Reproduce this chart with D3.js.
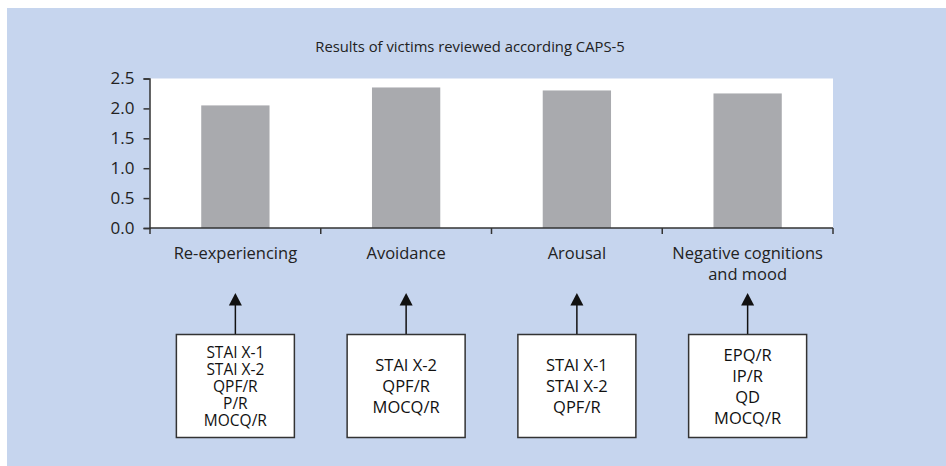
<!DOCTYPE html>
<html><head><meta charset="utf-8">
<script src="https://cdn.jsdelivr.net/npm/d3@7"></script>
<style>body{margin:0;background:#fff}svg{display:block}</style>
</head><body>
<svg id="c" width="946" height="466"></svg>
<script>
const title = "Results of victims reviewed according CAPS-5";
const categories = ["Re-experiencing", "Avoidance", "Arousal", "Negative cognitions"];
const categoryLines = [["Re-experiencing"], ["Avoidance"], ["Arousal"], ["Negative cognitions", "and mood"]];
const values = [2.05, 2.35, 2.3, 2.25];
const yTicks = [0, 0.5, 1.0, 1.5, 2.0, 2.5];
const boxLines = [
  ["STAI X-1", "STAI X-2", "QPF/R", "P/R", "MOCQ/R"],
  ["STAI X-2", "QPF/R", "MOCQ/R"],
  ["STAI X-1", "STAI X-2", "QPF/R"],
  ["EPQ/R", "IP/R", "QD", "MOCQ/R"]
];

const svg = d3.select("#c");
const font = "'Open Sans', sans-serif";
svg.append("rect").attr("x", 7).attr("y", 8).attr("width", 939).attr("height", 458).attr("fill", "#c6d5ee");

const x = d3.scaleBand().domain(categories).range([150, 833]).paddingInner(0.6).paddingOuter(0.3);
const y = d3.scaleLinear().domain([0, 2.5]).range([228, 78.5]);

svg.append("rect").attr("x", 150).attr("y", y(2.5)).attr("width", 833 - 150).attr("height", y(0) - y(2.5)).attr("fill", "#fff");

svg.append("text").attr("x", 470).attr("y", 52).attr("text-anchor", "middle")
  .attr("font-family", font).attr("font-size", 14.8).attr("fill", "#222").text(title);

svg.selectAll(".bar").data(values).enter().append("rect")
  .attr("x", (d, i) => x(categories[i])).attr("width", x.bandwidth())
  .attr("y", d => y(d)).attr("height", d => y(0) - y(d)).attr("fill", "#a9aaae");

// y axis
const yAxis = svg.append("g").attr("transform", "translate(149.5,0)")
  .call(d3.axisLeft(y).tickValues(yTicks).tickFormat(d3.format(".1f")).tickSize(6).tickPadding(9));
yAxis.select(".domain").attr("stroke", "#333").attr("stroke-width", 1.5);
yAxis.selectAll(".tick line").attr("stroke", "#333").attr("stroke-width", 1.5);
yAxis.selectAll(".tick text").attr("font-family", font).attr("font-size", 17).attr("fill", "#222");

// x axis line and boundary ticks
const step = x.step();
const bounds = d3.range(categories.length + 1).map(i => 150 + i * step);
svg.append("line").attr("x1", 149.5).attr("x2", 833).attr("y1", y(0)).attr("y2", y(0)).attr("stroke", "#333").attr("stroke-width", 1.5);
svg.selectAll(".xt").data(bounds).enter().append("line")
  .attr("x1", d => d).attr("x2", d => d).attr("y1", y(0)).attr("y2", y(0) + 6)
  .attr("stroke", "#333").attr("stroke-width", 1.5);

// category labels
categoryLines.forEach((lines, i) => {
  const cx = x(categories[i]) + x.bandwidth() / 2;
  const t = svg.append("text").attr("text-anchor", "middle").attr("font-family", font)
    .attr("font-size", 16.5).attr("fill", "#222");
  lines.forEach((l, j) => t.append("tspan").attr("x", cx).attr("y", 259 + j * 21).text(l));
});

// arrows and boxes
const boxW = 118, boxTop = 334.5, boxH = 103;
const lineH = [17, 21, 21, 21];
const boxFont = [15.5, 16.5, 16.5, 16.5];
boxLines.forEach((lines, i) => {
  const cx = x(categories[i]) + x.bandwidth() / 2;
  svg.append("line").attr("x1", cx).attr("x2", cx).attr("y1", boxTop).attr("y2", 304)
    .attr("stroke", "#111").attr("stroke-width", 1.5);
  svg.append("path").attr("d", `M${cx},293 L${cx - 6.5},305.5 L${cx + 6.5},305.5 Z`).attr("fill", "#111");
  svg.append("rect").attr("x", cx - boxW / 2).attr("y", boxTop).attr("width", boxW).attr("height", boxH)
    .attr("fill", "#fff").attr("stroke", "#333").attr("stroke-width", 1.5);
  const mid = boxTop + boxH / 2;
  const n = lines.length, lh = lineH[i];
  const t = svg.append("text").attr("text-anchor", "middle").attr("font-family", font)
    .attr("font-size", boxFont[i]).attr("fill", "#111");
  lines.forEach((l, j) => t.append("tspan").attr("x", cx)
    .attr("y", mid + (j - (n - 1) / 2) * lh + 6).text(l));
});
</script>
</body></html>
